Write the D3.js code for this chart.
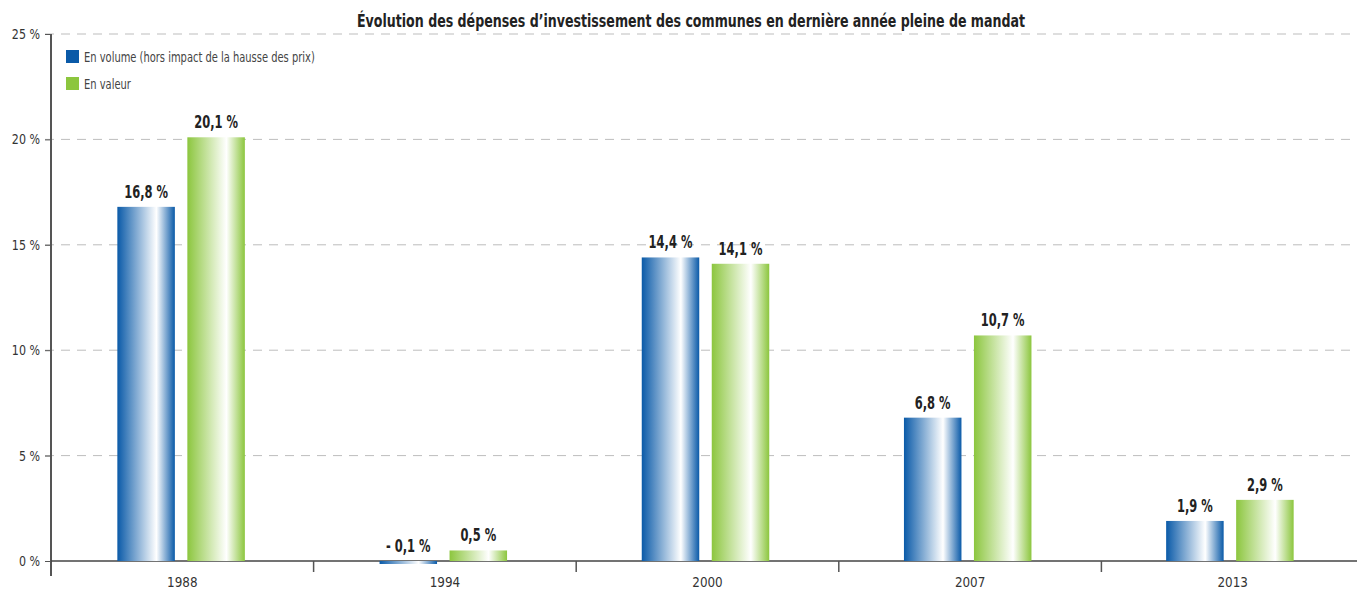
<!DOCTYPE html>
<html><head><meta charset="utf-8">
<script src="https://cdn.jsdelivr.net/npm/d3@7"></script>
<style>body{margin:0;background:#fff}svg{display:block}</style>
</head><body>
<svg id="c" width="1357" height="593"></svg>
<script>
const categories = ["1988","1994","2000","2007","2013"];
const volume = [16.8, -0.1, 14.4, 6.8, 1.9];
const valeur = [20.1, 0.5, 14.1, 10.7, 2.9];
const seriesNames = ["En volume (hors impact de la hausse des prix)", "En valeur"];
const yTicks = [0,5,10,15,20,25];
const title = "Évolution des dépenses d’investissement des communes en dernière année pleine de mandat";

const font = "'DejaVu Sans Condensed','Liberation Sans Narrow',sans-serif";
const svg = d3.select("#c");
const W = 1357, H = 593;
const x0 = 51, x1 = 1364, yTop = 34, yZero = 561;
const x = d3.scaleBand().domain(categories).range([x0, x1]);
const xb = d3.scaleBand().domain(categories).range([x0 - 1, x1 - 3]);
const y = d3.scaleLinear().domain([0,25]).range([yZero, yTop]);

function condense(sel, f) {
  sel.each(function() {
    const L = this.getComputedTextLength();
    d3.select(this).attr("textLength", L * f).attr("lengthAdjust", "spacingAndGlyphs");
  });
}

const defs = svg.append("defs");
function grad(id, c) {
  const g = defs.append("linearGradient").attr("id", id).attr("x1","0%").attr("x2","100%").attr("y1","0").attr("y2","0");
  g.append("stop").attr("offset","0%").attr("stop-color", c);
  g.append("stop").attr("offset","68%").attr("stop-color", "#ffffff");
  g.append("stop").attr("offset","100%").attr("stop-color", c);
}
grad("gb", "#0a5aa8");
grad("gg", "#8cc63e");
const colors = ["#0a5aa8", "#8cc63e"];

// gridlines
svg.append("g").selectAll("line").data(yTicks.filter(d=>d>0)).join("line")
  .attr("x1", x0 - 6).attr("x2", W).attr("y1", d=>y(d)).attr("y2", d=>y(d))
  .attr("stroke", "#bdbdbd").attr("stroke-width", 1).attr("stroke-dasharray", "9,7");

// y axis
const yAxis = svg.append("g").attr("transform", `translate(${x0},0)`)
  .call(d3.axisLeft(y).tickValues(yTicks).tickSize(6).tickFormat(d => d + " %"));
yAxis.select(".domain").remove();
yAxis.selectAll(".tick line").attr("stroke", "#555");
yAxis.selectAll("text").attr("font-family", font).attr("font-size", 14).attr("fill", "#333").attr("dx", -2);
condense(yAxis.selectAll("text"), 0.88);
svg.append("line").attr("x1", x0).attr("x2", x0).attr("y1", yTop).attr("y2", yZero + 15)
  .attr("stroke", "#555").attr("stroke-width", 2);

// x axis
const xAxis = svg.append("g").attr("transform", `translate(0,${yZero})`)
  .call(d3.axisBottom(x).tickSize(0).tickPadding(16));
xAxis.select(".domain").remove();
xAxis.selectAll("text").attr("font-family", font).attr("font-size", 14).attr("fill", "#333");
condense(xAxis.selectAll("text"), 0.95);
svg.append("line").attr("x1", x0).attr("x2", W).attr("y1", yZero).attr("y2", yZero)
  .attr("stroke", "#444").attr("stroke-width", 1.5);
svg.append("g").selectAll("line").data(categories.slice(1)).join("line")
  .attr("x1", d => x(d)).attr("x2", d => x(d)).attr("y1", yZero).attr("y2", yZero + 11)
  .attr("stroke", "#555").attr("stroke-width", 1.5);

// bars
const bw = 57.5, off = 35;
const series = [volume, valeur];
const fills = ["url(#gb)", "url(#gg)"];
series.forEach((vals, si) => {
  const g = svg.append("g");
  const data = categories.map((c, i) => ({c, v: vals[i]}));
  g.selectAll("rect").data(data).join("rect")
    .attr("x", d => xb(d.c) + xb.bandwidth()/2 + (si === 0 ? -off : off) - bw/2)
    .attr("width", bw)
    .attr("y", d => Math.min(y(d.v), y(0)))
    .attr("height", d => Math.max(Math.abs(y(d.v) - y(0)), 3))
    .attr("fill", fills[si]);
  const t = g.selectAll("text").data(data).join("text")
    .attr("x", d => xb(d.c) + xb.bandwidth()/2 + (si === 0 ? -off : off))
    .attr("y", d => Math.min(y(d.v), y(0)) - 9)
    .attr("text-anchor", "middle")
    .attr("font-family", font).attr("font-weight", "bold").attr("font-size", 17).attr("fill", "#222")
    .text(d => (d.v < 0 ? "- " + String(Math.abs(d.v)).replace(".", ",") : String(d.v).replace(".", ",")) + " %");
  condense(t, 0.75);
});

// legend
const leg = svg.append("g");
seriesNames.forEach((n, i) => {
  leg.append("rect").attr("x", 66).attr("y", 50 + i*27).attr("width", 13).attr("height", 13).attr("fill", colors[i]);
  const t = leg.append("text").attr("x", 84).attr("y", 62 + i*27).attr("font-family", font).attr("font-size", 14.5)
    .attr("fill", "#444").text(n);
  condense(t, 0.76);
});

// title
const tt = svg.append("text").attr("x", 691).attr("y", 27).attr("text-anchor", "middle")
  .attr("font-family", font).attr("font-weight", "bold").attr("font-size", 18).attr("fill", "#222").text(title);
tt.attr("textLength", 668).attr("lengthAdjust", "spacingAndGlyphs");
</script>
</body></html>
